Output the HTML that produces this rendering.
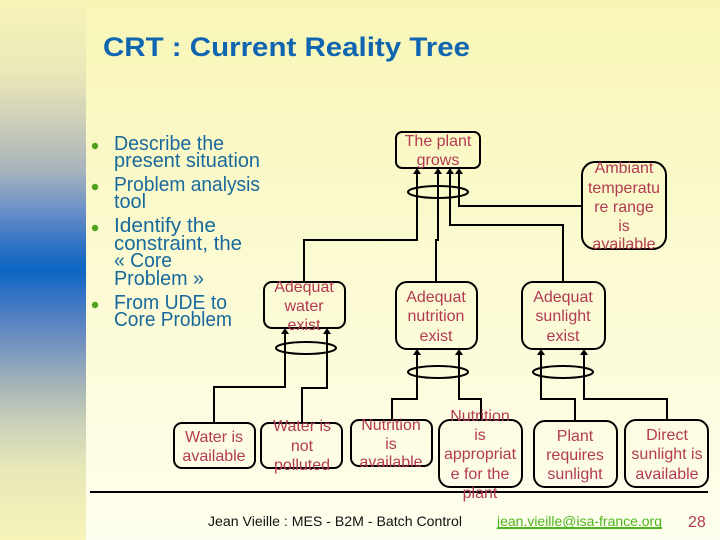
<!DOCTYPE html>
<html>
<head>
<meta charset="utf-8">
<style>
html,body{margin:0;padding:0;background:#fff;}
svg{display:block;}
</style>
</head>
<body>
<svg xmlns="http://www.w3.org/2000/svg" width="720" height="540" viewBox="0 0 720 540">
<defs>
<linearGradient id="bg" x1="0" y1="0" x2="0" y2="1">
<stop offset="0" stop-color="#f8f6b6"/>
<stop offset="1" stop-color="#fefeee"/>
</linearGradient>
<linearGradient id="bar" gradientUnits="userSpaceOnUse" x1="0" y1="0" x2="0" y2="540">
<stop offset="0" stop-color="#f6f4b8"/>
<stop offset="0.13" stop-color="#ebe9b8"/>
<stop offset="0.222" stop-color="#cfd0b8"/>
<stop offset="0.315" stop-color="#a8b4bc"/>
<stop offset="0.39" stop-color="#6a90c8"/>
<stop offset="0.444" stop-color="#3876c4"/>
<stop offset="0.5" stop-color="#0b66c2"/>
<stop offset="0.556" stop-color="#3a75c4"/>
<stop offset="0.63" stop-color="#7090c0"/>
<stop offset="0.704" stop-color="#a0b0b8"/>
<stop offset="0.778" stop-color="#c8cfb8"/>
<stop offset="0.87" stop-color="#e8e8b8"/>
<stop offset="1" stop-color="#f6f4b8"/>
</linearGradient>
</defs>
<rect width="720" height="540" fill="url(#bg)"/>
<rect width="86" height="540" fill="url(#bar)"/>

<text x="103" y="56" font-family="Liberation Sans, sans-serif" font-weight="bold" font-size="27" fill="#0f65b0" textLength="367" lengthAdjust="spacingAndGlyphs">CRT : Current Reality Tree</text>

<g fill="#4fa31a">
<circle cx="95" cy="146" r="3.2"/>
<circle cx="95" cy="187" r="3.2"/>
<circle cx="95" cy="228" r="3.2"/>
<circle cx="95" cy="305" r="3.2"/>
</g>
<g font-family="Liberation Sans, sans-serif" font-size="20" fill="#19699c">
<text x="114" y="150" textLength="110" lengthAdjust="spacingAndGlyphs">Describe the</text>
<text x="114" y="167" textLength="146" lengthAdjust="spacingAndGlyphs">present situation</text>
<text x="114" y="191" textLength="146" lengthAdjust="spacingAndGlyphs">Problem analysis</text>
<text x="114" y="208" textLength="32" lengthAdjust="spacingAndGlyphs">tool</text>
<text x="114" y="232" textLength="102" lengthAdjust="spacingAndGlyphs">Identify the</text>
<text x="114" y="250" textLength="128" lengthAdjust="spacingAndGlyphs">constraint, the</text>
<text x="114" y="267" textLength="58" lengthAdjust="spacingAndGlyphs">« Core</text>
<text x="114" y="285" textLength="90" lengthAdjust="spacingAndGlyphs">Problem »</text>
<text x="114" y="309" textLength="113" lengthAdjust="spacingAndGlyphs">From UDE to</text>
<text x="114" y="326" textLength="118" lengthAdjust="spacingAndGlyphs">Core Problem</text>
</g>

<g fill="none" stroke="#000" stroke-width="2">
<!-- boxes -->
<rect x="396" y="132" width="84" height="36" rx="6"/>
<rect x="582" y="162" width="84" height="87" rx="13"/>
<rect x="396" y="282" width="81" height="67" rx="11"/>
<rect x="522" y="282" width="83" height="67" rx="11"/>
<rect x="264" y="282" width="81" height="46" rx="8"/>
<rect x="174" y="423" width="81" height="45" rx="8"/>
<rect x="261" y="423" width="81" height="45" rx="8"/>
<rect x="351" y="420" width="81" height="46" rx="8"/>
<rect x="439" y="420" width="83" height="67" rx="11"/>
<rect x="534" y="421" width="83" height="66" rx="11"/>
<rect x="625" y="420" width="83" height="67" rx="11"/>
<!-- ellipses -->
<ellipse cx="438" cy="192" rx="30" ry="6"/>
<ellipse cx="438" cy="372" rx="30" ry="6"/>
<ellipse cx="563" cy="372" rx="30" ry="6"/>
<ellipse cx="306" cy="348" rx="30" ry="6"/>
<!-- connectors -->
<path d="M417 172V240H304V282"/>
<path d="M438 172V240H436V282"/>
<path d="M450 172V225H563V282"/>
<path d="M459 172V206H582"/>
<path d="M285 332V387H214V423"/>
<path d="M327 332V388H302V423"/>
<path d="M417 353V399H392V420"/>
<path d="M459 353V399H481V420"/>
<path d="M541 353V399H575V421"/>
<path d="M584 353V399H667V420"/>
<!-- rule -->
<path d="M90 492H708"/>
</g>
<g fill="#000">
<path d="M417 168l-4 6h8z"/>
<path d="M438 168l-4 6h8z"/>
<path d="M450 168l-4 6h8z"/>
<path d="M459 168l-4 6h8z"/>
<path d="M417 349l-4 6h8z"/>
<path d="M459 349l-4 6h8z"/>
<path d="M541 349l-4 6h8z"/>
<path d="M584 349l-4 6h8z"/>
<path d="M285 328l-4 6h8z"/>
<path d="M327 328l-4 6h8z"/>
</g>

<g font-family="Liberation Sans, sans-serif" font-size="16" fill="#b23a52" text-anchor="middle">
<text x="438" y="146">The plant</text>
<text x="438" y="165">grows</text>

<text x="624" y="173">Ambiant</text>
<text x="624" y="193">temperatu</text>
<text x="624" y="212">re range</text>
<text x="624" y="231">is</text>
<text x="624" y="249">available</text>

<text x="436" y="302">Adequat</text>
<text x="436" y="321">nutrition</text>
<text x="436" y="341">exist</text>

<text x="563" y="302">Adequat</text>
<text x="563" y="321">sunlight</text>
<text x="563" y="341">exist</text>

<text x="304" y="292">Adequat</text>
<text x="304" y="311">water</text>
<text x="304" y="330">exist</text>

<text x="214" y="442">Water is</text>
<text x="214" y="461">available</text>

<text x="302" y="431">Water is</text>
<text x="302" y="451">not</text>
<text x="302" y="470">polluted</text>

<text x="391" y="430">Nutrition</text>
<text x="391" y="449">is</text>
<text x="391" y="467">available</text>

<text x="480" y="421">Nutrition</text>
<text x="480" y="440">is</text>
<text x="480" y="459">appropriat</text>
<text x="480" y="479">e for the</text>
<text x="480" y="498">plant</text>

<text x="575" y="441">Plant</text>
<text x="575" y="460">requires</text>
<text x="575" y="479">sunlight</text>

<text x="667" y="440">Direct</text>
<text x="667" y="459">sunlight is</text>
<text x="667" y="479">available</text>
</g>

<text x="208" y="526" font-family="Liberation Sans, sans-serif" font-size="14" fill="#111" textLength="254" lengthAdjust="spacingAndGlyphs">Jean Vieille : MES - B2M - Batch Control</text>
<text x="497" y="526" font-family="Liberation Sans, sans-serif" font-size="14" fill="#4fb51e" textLength="165" lengthAdjust="spacingAndGlyphs">jean.vieille@isa-france.org</text>
<rect x="497" y="527" width="165" height="2" fill="#4fb51e"/>
<text x="688" y="527" font-family="Liberation Sans, sans-serif" font-size="16" fill="#b23a52">28</text>
</svg>
</body>
</html>
